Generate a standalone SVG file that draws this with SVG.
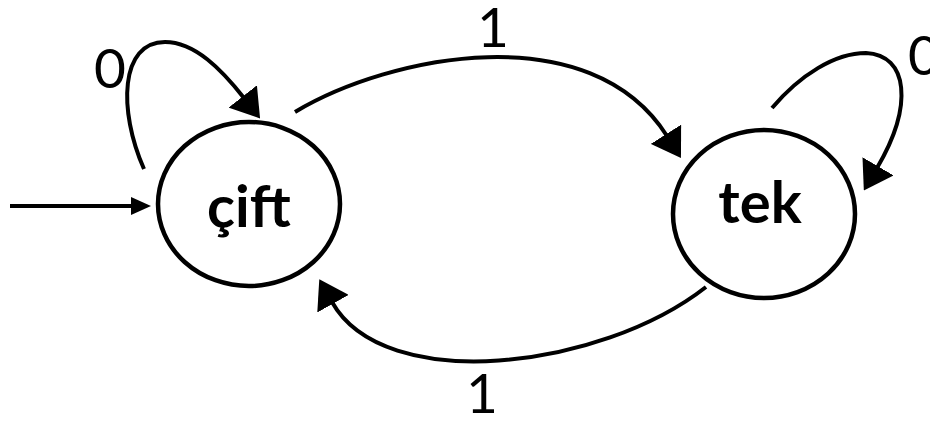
<svg xmlns="http://www.w3.org/2000/svg" width="930" height="422" viewBox="0 0 930 422">
  <style>
    .state { fill: #ffffff; stroke: #000000; stroke-width: 4.5; }
    .name { font-family: Lato, "Open Sans", "Liberation Sans", sans-serif; font-weight: bold; font-size: 58px; fill: #000000; text-anchor: middle; }
    .edge { fill: none; stroke: #000000; stroke-width: 4; }
    .lbl { font-family: Lato, "Open Sans", "Liberation Sans", sans-serif; font-size: 55px; fill: #000000; text-anchor: middle; }
  </style>
  <defs>
    <marker id="big" markerUnits="userSpaceOnUse" viewBox="0 0 28 36" refX="2" refY="18" markerWidth="28" markerHeight="36" orient="auto">
      <path d="M0,0 L28,18 L0,36 Z" fill="#000000"/>
    </marker>
    <marker id="small" markerUnits="userSpaceOnUse" viewBox="0 0 20 18" refX="2" refY="9" markerWidth="20" markerHeight="18" orient="auto">
      <path d="M0,0 L20,9 L0,18 Z" fill="#000000"/>
    </marker>
  </defs>
  <rect width="930" height="422" fill="#ffffff"/>
  <g id="connectors">
    <path class="edge" d="M10,206 L133,206" stroke-width="4.5" marker-end="url(#small)"/>
    <path class="edge" d="M144,169 C118,110 120,42 165,42 C195,42 222,70 244,98" marker-end="url(#big)"/>
    <path class="edge" d="M295,112 C390,55 590,15 667,136" marker-end="url(#big)"/>
    <path class="edge" d="M772,108 C800,75 835,53 866,53 C908,55 914,105 877,168" marker-end="url(#big)"/>
    <path class="edge" d="M706,287 C600,370 384,395 332,302" marker-end="url(#big)"/>
    <text class="lbl" x="110" y="88">0</text>
    <text class="lbl" x="493" y="47">1</text>
    <text class="lbl" x="482" y="413">1</text>
    <text class="lbl" x="924" y="75">0</text>
  </g>
  <g id="cift">
    <ellipse class="state" cx="249" cy="204" rx="91" ry="82"/>
    <text class="name" x="249" y="227">çift</text>
  </g>
  <g id="tek">
    <ellipse class="state" cx="764" cy="214" rx="91" ry="84"/>
    <text class="name" x="760" y="223">tek</text>
  </g>
</svg>
